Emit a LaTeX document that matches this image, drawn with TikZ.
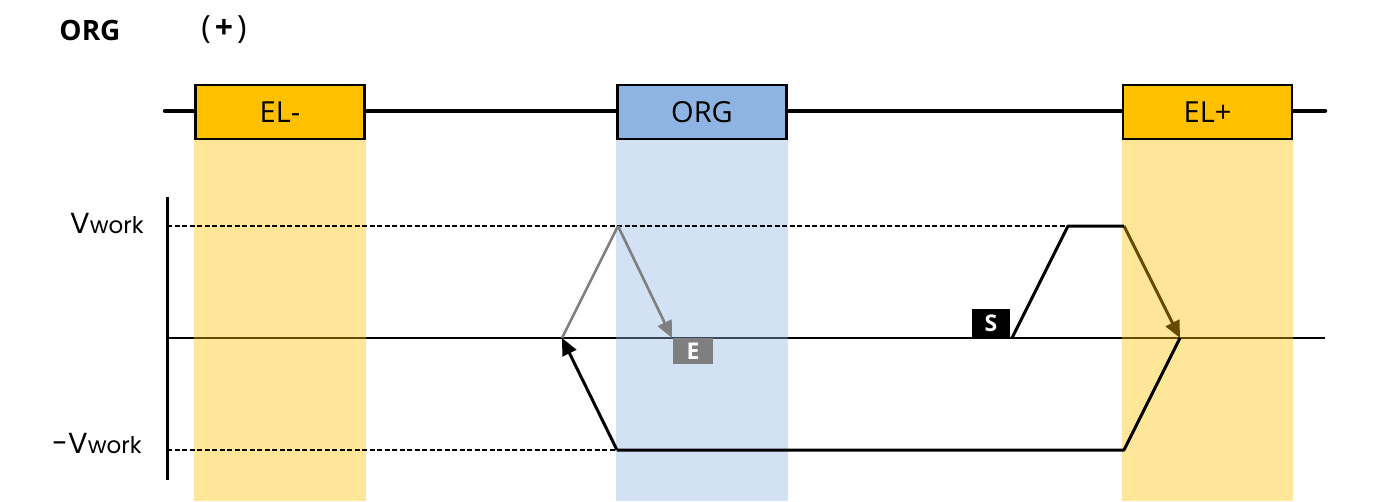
\documentclass[tikz,border=0pt]{standalone}
\usepackage{fontspec}
\setmainfont{Open Sans}
\newfontfamily\geo{Poppins}
\usetikzlibrary{arrows.meta}
\definecolor{elyellow}{HTML}{FFC000}
\definecolor{orgblue}{HTML}{8EB4E3}
\definecolor{tgray}{HTML}{7F7F7F}
\tikzset{
  boxlbl/.style={draw=black, line width=2.2pt, minimum width=169pt, minimum height=54pt, inner sep=0pt, font=\fontsize{29}{32}\selectfont},
  elbox/.style={boxlbl, fill=elyellow},
  orgbox/.style={boxlbl, fill=orgblue},
  band/.style={opacity=0.4},
  trace/.style={line width=3pt, line join=round},
  graytrace/.style={line width=2.6pt, tgray, line join=round},
  dashline/.style={line width=2.2pt, dash pattern=on 5pt off 2.5pt},
  tip/.style={-{Triangle[length=17pt,width=15pt]}},
  tag/.style={inner sep=0pt, font=\bfseries\fontsize{23}{25}\selectfont, text=white},
  vlbl/.style={anchor=base east, inner sep=0pt, font=\geo\fontsize{29}{32}\selectfont},
}
\begin{document}
\begin{tikzpicture}[x=1pt,y=-1pt]
\useasboundingbox (0,0) rectangle (1375,501);
% coordinates
\coordinate (bot) at (0,501);
\coordinate (wl) at (165,111);
\coordinate (wr) at (1325,111);
\coordinate (axt) at (167,197);
\coordinate (axb) at (167,480);
\coordinate (zl) at (167,338);
\coordinate (zr) at (1325,338);
\coordinate (vwl) at (167,226);
\coordinate (nvwl) at (167,450);
\coordinate (g1) at (562,338);
\coordinate (g2) at (618,226);
\coordinate (g3) at (672,338);
\coordinate (s0) at (1012,338);
\coordinate (s1) at (1068,226);
\coordinate (s2) at (1124,226);
\coordinate (s3) at (1180,338);
\coordinate (b1) at (1124,450);
\coordinate (b2) at (617,450);

% title
\node[font=\bfseries\fontsize{28}{30}\selectfont, inner sep=0pt] (title) at (90,30) {ORG};
\node[font=\fontsize{32}{34}\selectfont, inner sep=0pt] (sign) at (224,30) {(\hspace{4pt}\textbf{+}\hspace{4pt})};

% wire and boxes
\draw[line width=4.5pt, line cap=round] (wl) -- (wr);
\node[elbox] (elm) at (280,112) {EL-};
\node[orgbox] (org) at (702,112) {ORG};
\node[elbox] (elp) at (1207.5,112) {EL+};

% under the bands
\draw[line width=2.3pt] (zl) -- (zr);
\draw[trace, tip] (s2) -- (s3);

% bands
\fill[elyellow, band] (elm.south west) rectangle (elm.south east |- bot);
\fill[orgblue, band] (org.south west) rectangle (org.south east |- bot);
\fill[elyellow, band] (elp.south west) rectangle (elp.south east |- bot);

% dashed levels
\draw[dashline] (vwl) -- (s1);
\draw[dashline] (nvwl) -- (b2);

% gray trace
\draw[graytrace] (g1) -- (g2);
\draw[graytrace, tip] (g2) -- (g3);

% black traces
\draw[trace] (s0) -- (s1) -- (s2);
\draw[trace] (s3) -- (b1) -- (b2);
\draw[trace, tip] (b2) -- (g1);

% axis
\draw[line width=3pt] (axt) -- (axb);

% tags
\node[tag, fill=black, minimum width=38pt, minimum height=29pt] (stag) at (991,323.5) {S};
\node[tag, fill=tgray, minimum width=40pt, minimum height=26pt] (etag) at (693,351) {E};

% labels
\node[vlbl] (vw) at (144,233) {V{\fontsize{23}{25}\selectfont work}};
\node[vlbl] (nvw) at (142,453) {-V{\fontsize{23}{25}\selectfont work}};
\end{tikzpicture}
\end{document}
